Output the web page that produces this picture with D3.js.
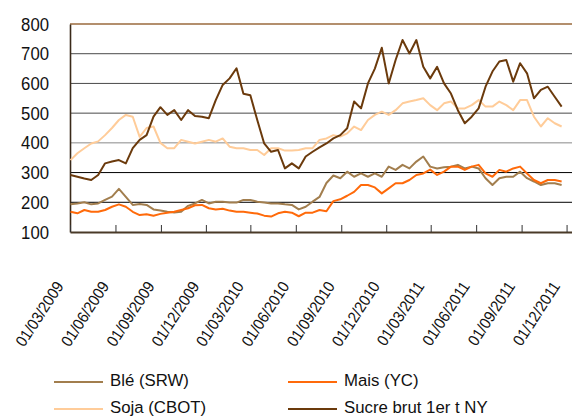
<!DOCTYPE html>
<html>
<head>
<meta charset="utf-8">
<script src="https://cdn.jsdelivr.net/npm/d3@7"></script>
<style>
body { margin: 0; background: #fff; }
svg { display: block; font-family: "Liberation Sans", Arial, sans-serif; }
</style>
</head>
<body>
<div id="chart"></div>
<script>
const dates = [
  "2009-03-02","2009-03-16","2009-03-30","2009-04-13","2009-04-27","2009-05-11","2009-05-25","2009-06-08",
  "2009-06-22","2009-07-06","2009-07-20","2009-08-03","2009-08-17","2009-08-31","2009-09-14","2009-09-28",
  "2009-10-12","2009-10-26","2009-11-09","2009-11-23","2009-12-07","2009-12-21","2010-01-04","2010-01-18",
  "2010-02-01","2010-02-15","2010-03-01","2010-03-15","2010-03-29","2010-04-12","2010-04-26","2010-05-10",
  "2010-05-24","2010-06-07","2010-06-21","2010-07-05","2010-07-19","2010-08-02","2010-08-16","2010-08-30",
  "2010-09-13","2010-09-27","2010-10-11","2010-10-25","2010-11-08","2010-11-22","2010-12-06","2010-12-20",
  "2011-01-03","2011-01-17","2011-01-31","2011-02-14","2011-02-28","2011-03-14","2011-03-28","2011-04-11",
  "2011-04-25","2011-05-09","2011-05-23","2011-06-06","2011-06-20","2011-07-04","2011-07-18","2011-08-01",
  "2011-08-15","2011-08-29","2011-09-12","2011-09-26","2011-10-10","2011-10-24","2011-11-07","2011-11-21"
];

const ble = [193,196,200,193,196,208,219,245,218,191,194,191,176,172,168,166,
  168,188,196,208,196,202,202,199,199,208,208,202,199,196,196,193,
  191,176,185,202,218,265,290,281,303,286,297,286,297,286,320,309,
  326,314,337,354,320,314,318,320,326,314,320,314,281,258,281,286,
  286,303,281,270,258,264,264,258];

const mais = [168,163,174,168,168,174,185,193,185,168,157,160,155,161,165,168,
  174,180,190,191,180,176,178,172,168,168,165,162,155,152,163,168,
  165,153,165,165,174,170,204,210,222,235,258,258,250,230,247,264,
  264,275,292,297,310,292,303,320,320,309,320,326,297,286,309,303,
  314,320,297,275,264,275,275,270];

const soja = [342,365,382,398,405,426,450,477,494,488,420,450,455,400,382,382,
  410,404,398,404,410,404,415,387,382,382,376,376,359,382,382,374,
  374,376,382,382,410,415,426,421,432,455,443,477,494,505,494,510,
  533,539,544,550,527,510,533,539,516,516,527,544,522,522,539,527,
  510,544,544,488,455,483,466,455];

const sucre = [292,286,280,275,292,331,337,342,331,382,410,426,488,520,494,510,
  477,510,490,488,483,544,595,617,651,565,560,477,398,370,376,314,
  331,314,354,370,385,398,415,426,449,539,516,600,650,720,600,679,
  746,701,746,656,617,656,600,566,510,466,488,516,589,640,674,679,
  606,668,634,550,578,589,555,522];

const seriesNames = ["Blé (SRW)", "Mais (YC)", "Soja (CBOT)", "Sucre brut 1er t NY"];
const seriesColors = ["#a27e4e", "#ff6a0a", "#ffcc99", "#6b3a0c"];
const yTicks = [100, 200, 300, 400, 500, 600, 700, 800];
const xTicks = ["2009-03-01","2009-06-01","2009-09-01","2009-12-01","2010-03-01","2010-06-01",
  "2010-09-01","2010-12-01","2011-03-01","2011-06-01","2011-09-01","2011-12-01"];

const width = 572, height = 418;
const parse = d3.timeParse("%Y-%m-%d");
const x = d3.scaleTime()
  .domain([parse("2009-03-01"), parse("2011-12-12")])
  .range([70, 572]);
const y = d3.scaleLinear().domain([100, 800]).range([232, 24]);

const svg = d3.select("#chart").append("svg")
  .attr("width", width)
  .attr("height", height);

// squeeze text a bit, the original font is narrower
function narrow(sel, k) {
  sel.each(function() {
    const w = this.getComputedTextLength();
    d3.select(this).attr("textLength", w * k).attr("lengthAdjust", "spacingAndGlyphs");
  });
}

// gridlines
function gridColor(v) {
  if (v == 400) return "#8a8a8a";
  if (v <= 300) return "#000";
  return "#4a4a4a";
}
svg.append("g").selectAll("line")
  .data(yTicks.filter(v => v > 100 && v < 800))
  .enter().append("line")
  .attr("x1", 70).attr("x2", 572)
  .attr("y1", d => y(d)).attr("y2", d => y(d))
  .attr("stroke", gridColor)
  .attr("stroke-width", 1);

// top border
svg.append("line")
  .attr("x1", 70).attr("x2", 572)
  .attr("y1", y(800)).attr("y2", y(800))
  .attr("stroke", "#9a6a3c")
  .attr("stroke-width", 1.6);

// y axis
const yAxis = svg.append("g")
  .attr("transform", "translate(70,0)")
  .call(d3.axisLeft(y).tickValues(yTicks).tickSize(0).tickPadding(21));
yAxis.select(".domain").attr("stroke", "#3a2a1a").attr("stroke-width", 1.6);
yAxis.selectAll("text")
  .attr("font-size", "18.8px")
  .attr("fill", "#111")
  .attr("font-family", "Liberation Sans, Arial, sans-serif")
  .call(narrow, 0.89);

// lines
const allSeries = [ble, mais, soja, sucre];
const line = d3.line()
  .x((d, i) => x(parse(dates[i])))
  .y(d => y(d));

const drawOrder = [2, 3, 0, 1];
svg.append("g").selectAll("path")
  .data(drawOrder)
  .enter().append("path")
  .attr("d", k => line(allSeries[k]))
  .attr("fill", "none")
  .attr("stroke", k => seriesColors[k])
  .attr("stroke-width", 2)
  .attr("stroke-linejoin", "round");

// x axis
const xAxis = svg.append("g")
  .attr("transform", "translate(0," + y(100) + ")")
  .call(d3.axisBottom(x)
    .tickValues(xTicks.map(parse))
    .tickSizeInner(-7)
    .tickSizeOuter(0)
    .tickFormat(d3.timeFormat("%d/%m/%Y")));
xAxis.select(".domain").attr("stroke", "#4a3a28").attr("stroke-width", 1.8);
xAxis.selectAll(".tick line").attr("stroke", "#333");
xAxis.selectAll("text")
  .attr("font-size", "16px")
  .attr("fill", "#111")
  .attr("font-family", "Liberation Sans, Arial, sans-serif")
  .attr("text-anchor", "end")
  .attr("y", 0)
  .attr("dy", "0.35em")
  .attr("transform", "translate(-11,51) rotate(-57)")
  .call(narrow, 0.92);

// legend
const legendPos = [[54, 382], [288, 382], [54, 409], [288, 409]];
const legend = svg.append("g").selectAll("g")
  .data(seriesNames)
  .enter().append("g")
  .attr("transform", (d, i) => "translate(" + legendPos[i][0] + "," + legendPos[i][1] + ")");
legend.append("line")
  .attr("x1", 0).attr("x2", 49)
  .attr("stroke", (d, i) => seriesColors[i])
  .attr("stroke-width", 2);
legend.append("text")
  .attr("x", 56)
  .attr("y", -2)
  .attr("dy", "0.35em")
  .attr("font-size", "16.8px")
  .attr("fill", "#111")
  .text(d => d);
</script>
</body>
</html>
